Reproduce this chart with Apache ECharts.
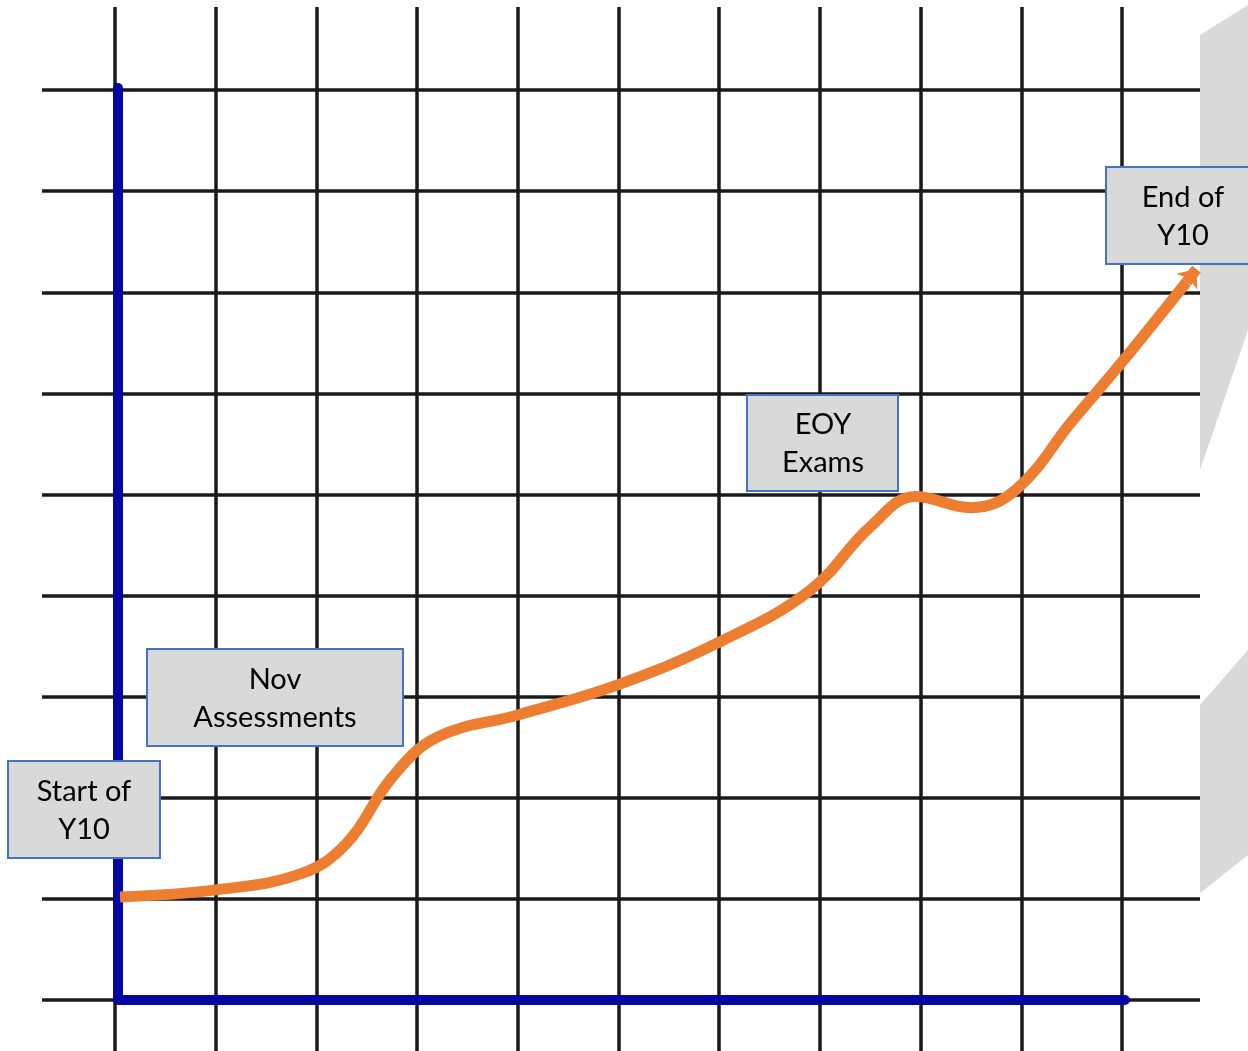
<!DOCTYPE html>
<html>
<head>
<meta charset="utf-8">
<style>
  html, body { margin: 0; padding: 0; background: #ffffff; }
  #chart { width: 1248px; height: 1051px; }
</style>
<script src="https://cdn.jsdelivr.net/npm/echarts@6/dist/echarts.min.js"></script>
</head>
<body>
<div id="chart"></div>
<script>
// ---- data ----
const gridXValues = [0, 1, 2, 3, 4, 5, 6, 7, 8, 9, 10];
const gridYValues = [0, 1, 2, 3, 4, 5, 6, 7, 8, 9];
const axisPathX = [0.03, 0.03, 10.03];
const axisPathY = [9.02, 0, 0];
const progressX = [0.05, 1.00, 1.85, 2.30, 2.75, 3.20, 4.00, 5.00, 6.00, 6.90, 7.50, 7.95, 8.50, 8.95, 9.50, 10.00, 10.64];
const progressY = [1.02, 1.09, 1.25, 1.55, 2.20, 2.60, 2.82, 3.12, 3.54, 4.05, 4.68, 4.98, 4.87, 5.05, 5.72, 6.31, 7.10];
const arrowTip = [10.74, 7.23];
const labels = ["Start of\nY10", "Nov\nAssessments", "EOY\nExams", "End of\nY10"];

// ---- chart ----
const chart = echarts.init(document.getElementById('chart'), null, { renderer: 'canvas' });

const progressData = progressX.map((x, i) => [x, progressY[i]]);
const axisData = axisPathX.map((x, i) => [x, axisPathY[i]]);
const lastPt = progressData[progressData.length - 1];

const gridLineData = [
  ...gridXValues.map(v => ({ xAxis: v })),
  ...gridYValues.map(v => ({ yAxis: v }))
];

// annotation boxes (pixel layout)
const boxes = [
  { x: 8, y: 761, w: 152, h: 97, cx: 84, text: labels[0] },
  { x: 147, y: 649, w: 256, h: 97, cx: 275, text: labels[1] },
  { x: 747, y: 395, w: 151, h: 96, cx: 823, text: labels[2] },
  { x: 1106, y: 167, w: 150, h: 97, cx: 1183, text: labels[3] }
];

const graphics = [
  { type: 'polygon', z: 1, shape: { points: [[1200, 35], [1248, 5], [1248, 330], [1200, 470]] }, style: { fill: '#d9d9d9' }, silent: true },
  { type: 'polygon', z: 1, shape: { points: [[1200, 705], [1248, 650], [1248, 855], [1200, 893]] }, style: { fill: '#d9d9d9' }, silent: true }
];
boxes.forEach(b => {
  graphics.push({
    type: 'rect', z: 100,
    shape: { x: b.x, y: b.y, width: b.w, height: b.h },
    style: { fill: '#d9d9d9', stroke: '#4472c4', lineWidth: 2 }
  });
  graphics.push({
    type: 'text', z: 101,
    x: b.cx, y: b.y + b.h / 2 + 1,
    style: {
      text: b.text, fill: '#000000',
      font: '29px Lato, "Open Sans", sans-serif',
      lineHeight: 38, align: 'center', verticalAlign: 'middle'
    }
  });
});

chart.setOption({
  animation: false,
  backgroundColor: '#ffffff',
  grid: { left: 42, right: 48, top: 7, bottom: 0, containLabel: false },
  xAxis: { type: 'value', min: -0.725, max: 10.775, show: false, splitLine: { show: false } },
  yAxis: { type: 'value', min: -0.504, max: 9.822, show: false, splitLine: { show: false } },
  graphic: graphics,
  series: [
    {
      name: 'grid', type: 'line', data: [], silent: true, z: 2,
      markLine: {
        z: 2,
        silent: true, symbol: ['none', 'none'], animation: false,
        label: { show: false },
        lineStyle: { color: '#1a1a1a', width: 3.5, type: 'solid' },
        emphasis: { disabled: true },
        data: gridLineData
      }
    },
    {
      name: 'axes', type: 'line', data: axisData, z: 10, silent: true,
      symbol: 'none',
      lineStyle: { color: '#0606a2', width: 10, cap: 'round', join: 'round' }
    },
    {
      name: 'progress', type: 'line', data: progressData, z: 12, silent: true,
      symbol: 'none', smooth: 0.4,
      lineStyle: { color: '#ed7d31', width: 11, cap: 'butt' },
      markLine: {
        z: 13,
        silent: true, symbol: ['none', 'arrow'], symbolSize: [20, 16], animation: false,
        label: { show: false },
        lineStyle: { color: '#ed7d31', width: 11, type: 'solid' },
        emphasis: { disabled: true },
        data: [[{ coord: lastPt }, { coord: arrowTip }]]
      }
    }
  ]
});
</script>
</body>
</html>
